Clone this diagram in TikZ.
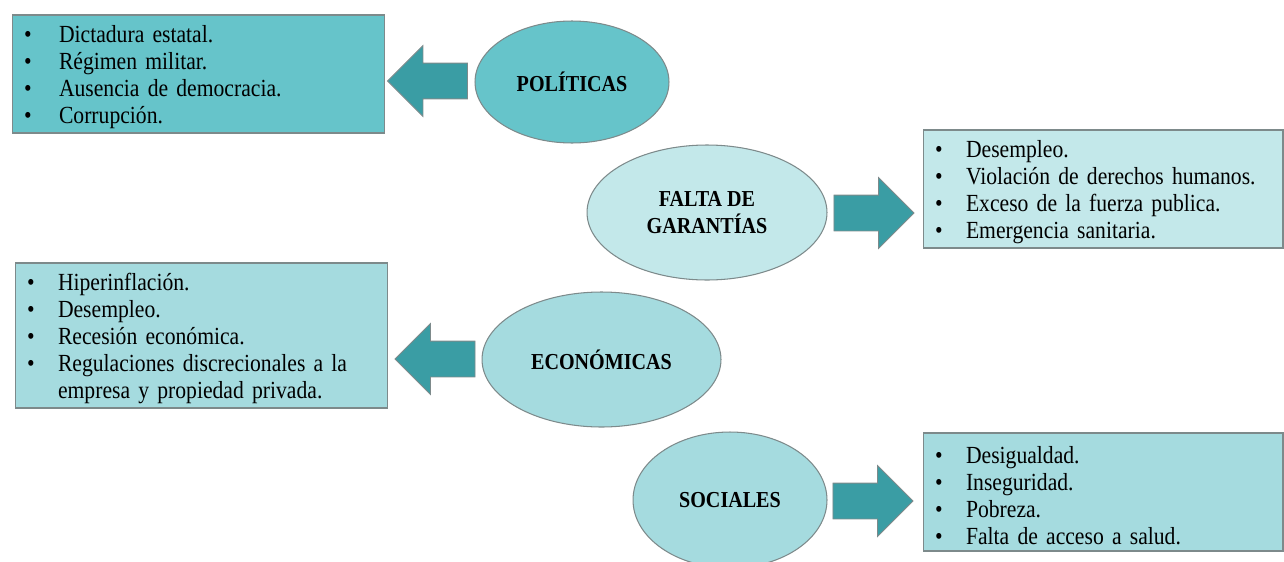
\documentclass[tikz,border=0pt]{standalone}
\usepackage{fontspec}
\setmainfont[FakeStretch=0.88]{Liberation Serif}
\usetikzlibrary{shapes.geometric,shapes.arrows}

\definecolor{tealdark}{HTML}{66C4CA}
\definecolor{teallight}{HTML}{C3E8EA}
\definecolor{tealmid}{HTML}{A5DBDF}
\definecolor{arrowteal}{HTML}{3A9DA4}
\definecolor{edgegray}{HTML}{7D8A8B}

\newcommand{\itm}[2][0.62cm]{\makebox[#1][l]{\textbullet}#2}

\tikzset{
  listbox/.style={rectangle, draw=edgegray, line width=0.6pt, inner xsep=0.24cm,
    inner ysep=0pt, align=left, font=\fontsize{14}{15.35}\selectfont,
    execute at begin node={\rule{0pt}{0.48cm}}},
  cause/.style={ellipse, draw=edgegray, line width=0.6pt, inner sep=0pt,
    align=center, font=\fontsize{13}{15.35}\selectfont\bfseries},
  bigarrow/.style={single arrow, draw=edgegray, line width=0.5pt, fill=arrowteal,
    minimum height=1.6cm, single arrow head extend=0.35cm,
    inner xsep=0pt, inner ysep=0.35cm}
}

\begin{document}
\begin{tikzpicture}[x=0.02cm,y=-0.02cm]
\useasboundingbox (0,0) rectangle (1284,561);
\node[listbox, fill=tealdark, text width=6.98cm, minimum height=2.36cm] (polbox) at (198.5,74)
  {\itm[0.7cm]{Dictadura estatal.}\\ \itm[0.7cm]{Régimen militar.}\\
   \itm[0.7cm]{Ausencia de democracia.}\\ \itm[0.7cm]{Corrupción.}};
\node[bigarrow, shape border rotate=180] (polarr) at (436.5,81) {};
\node[cause, fill=tealdark, minimum width=3.88cm, minimum height=2.44cm] (pol) at (572,82) {POLÍTICAS};

\node[cause, fill=teallight, minimum width=4.8cm, minimum height=2.7cm] (gar) at (707,212.5) {FALTA DE\\GARANTÍAS};
\node[bigarrow] (gararr) at (865,213) {};
\node[listbox, fill=teallight, text width=6.72cm, minimum height=2.36cm] (garbox) at (1103,189)
  {\itm{Desempleo.}\\ \itm{Violación de derechos humanos.}\\
   \itm{Exceso de la fuerza publica.}\\ \itm{Emergencia sanitaria.}};

\node[listbox, fill=tealmid, text width=6.98cm, minimum height=2.9cm] (ecobox) at (201.5,335.5)
  {\itm{Hiperinflación.}\\ \itm{Desempleo.}\\ \itm{Recesión económica.}\\
   \itm{Regulaciones discrecionales a la}\\ \hspace*{0.62cm}empresa y propiedad privada.};
\node[bigarrow, shape border rotate=180] (ecoarr) at (444,359) {};
\node[cause, fill=tealmid, minimum width=4.78cm, minimum height=2.7cm] (eco) at (601.5,359.5) {ECONÓMICAS};

\node[cause, fill=tealmid, minimum width=3.88cm, minimum height=2.72cm] (soc) at (730,500) {SOCIALES};
\node[bigarrow] (socarr) at (864,501) {};
\node[listbox, fill=tealmid, text width=6.72cm, minimum height=2.36cm] (socbox) at (1103,492)
  {\itm{Desigualdad.}\\ \itm{Inseguridad.}\\ \itm{Pobreza.}\\ \itm{Falta de acceso a salud.}};
\end{tikzpicture}
\end{document}
